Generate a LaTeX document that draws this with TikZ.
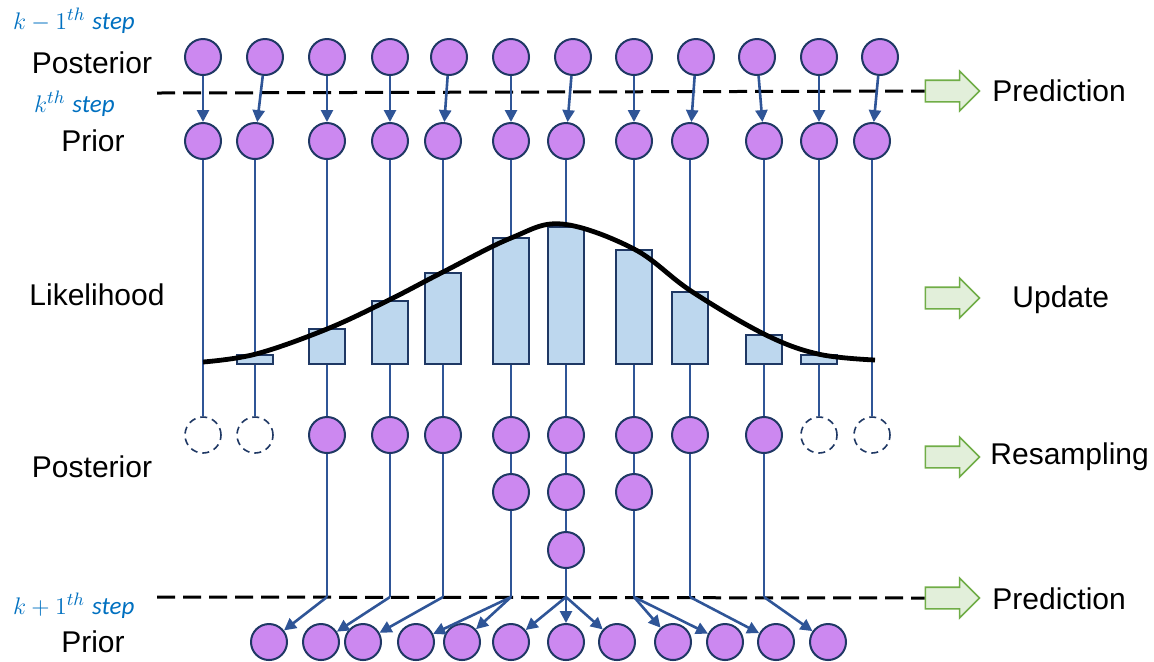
\documentclass[tikz,border=0pt]{standalone}
\usepackage{fontspec}
\setmainfont{Liberation Sans}
\newfontfamily\stepfont{Carlito}
\usetikzlibrary{arrows.meta, shapes.arrows}

\definecolor{particlefill}{RGB}{204,136,240}
\definecolor{navy}{RGB}{31,56,100}
\definecolor{wireblue}{RGB}{47,85,151}
\definecolor{barfill}{RGB}{189,215,238}
\definecolor{stepblue}{RGB}{0,112,192}
\definecolor{stagefill}{RGB}{226,239,218}
\definecolor{stagedraw}{RGB}{112,173,71}

\tikzset{
  particle/.style={circle, draw=navy, fill=particlefill, line width=1pt, minimum size=18pt, inner sep=0pt},
  lost/.style={circle, draw=navy, fill=white, dash pattern=on 3.5pt off 2.5pt, line width=0.8pt, minimum size=18pt, inner sep=0pt},
  wire/.style={draw=wireblue, line width=1.3pt},
  move/.style={wire, -{Triangle[length=6pt,width=6pt]}},
  bar/.style={draw=navy, fill=barfill, line width=1pt},
  cut/.style={black, line width=1.5pt, dash pattern=on 9pt off 4pt},
  stage/.style={single arrow, draw=stagedraw, fill=stagefill, line width=0.8pt, minimum height=27pt, single arrow head extend=4.5pt, inner xsep=0pt, inner ysep=5pt},
  rowlabel/.style={font=\fontsize{15}{18}\selectfont},
  stagelabel/.style={rowlabel, anchor=west, inner sep=0pt},
  steplabel/.style={text=stepblue, font=\fontsize{12.5}{15}\selectfont, anchor=west},
}

\begin{document}
\begin{tikzpicture}[x=0.5pt, y=-0.5pt]
      \useasboundingbox (0,0) rectangle (1154,661);

      % 1. row labels and step labels
      \node[steplabel] (km1) at (6,21) {$k-1^{th}$ {\stepfont\itshape step}};
      \node[steplabel] (k) at (27,104) {$k^{th}$ {\stepfont\itshape step}};
      \node[steplabel] (kp1) at (6,606) {$k+1^{th}$ {\stepfont\itshape step}};
      \node[rowlabel] (lpost1) at (92,63) {Posterior};
      \node[rowlabel] (lprior1) at (93,141) {Prior};
      \node[rowlabel] (llik) at (97,295) {Likelihood};
      \node[rowlabel] (lpost2) at (92,467) {Posterior};
      \node[rowlabel] (lprior2) at (93,642) {Prior};

      % 2. stage arrows on the right
      \node[stage] (pred1) at (947,91) {};
      \node[stage] (upd) at (947,298) {};
      \node[stage] (res) at (947,457) {};
      \node[stage] (pred2) at (947,598) {};
      \node[stagelabel] (tpred1) at (992,91) {Prediction};
      \node[stagelabel] (tupd) at (1012,300) {Update};
      \node[stagelabel] (tres) at (990,457) {Resampling};
      \node[stagelabel] (tpred2) at (992,599) {Prediction};

      % 3. step boundaries
      \draw[cut] (157,93) -- (pred1.west);
      \draw[cut] (157,597) -- (pred2.west);

      % 4. posterior at k-1 and prior at k
      \foreach \x [count=\i] in {203,265,327,390,449,511,573,634,696,757,819,880}
        \node[particle] (t\i) at (\x,57) {};
      \foreach \x [count=\i] in {203,255,327,390,443,511,566,634,690,764,819,872}
        \node[particle] (p\i) at (\x,141) {};
      \foreach \i in {1,...,12}
        \draw[move] (t\i) -- (p\i);

      % 5. posterior after resampling
      \node[lost] (r1) at (203,435) {};
      \node[lost] (r2) at (255,435) {};
      \foreach \x [count=\i from 3] in {327,390,443,511,566,634,690,764}
        \node[particle] (r\i) at (\x,435) {};
      \node[lost] (r11) at (819,435) {};
      \node[lost] (r12) at (872,435) {};
      \node[particle] (r6b) at (511,492) {};
      \node[particle] (r7b) at (566,492) {};
      \node[particle] (r7c) at (566,550) {};
      \node[particle] (r8b) at (634,492) {};
      \foreach \i in {1,...,12}
        \draw[wire] (p\i) -- (r\i);

      % 6. likelihood weights
      \foreach \x/\h in {255/355,327/329,390/301,443/273,511/238,566/227,634/250,690/292,764/335,819/355}
        \draw[bar] (\x-18,364) rectangle (\x+18,\h);
      \draw[black, line width=2.4pt] plot[smooth, tension=0.6] coordinates {(203,362) (256,354) (327,329) (389,300) (443,272) (511,238) (562,224) (634,249) (691,291) (764,334) (818,354) (875,360)};

      % 7. prior at k+1
      \foreach \x [count=\i] in {269,321,363,416,462,511,566,617,673,725,776,828}
        \node[particle] (b\i) at (\x,642) {};
      \foreach \x [count=\i from 3] in {327,390,443,511,566,634,690,764}
        \coordinate (s\i) at (\x,597);
      \draw[wire] (r3) -- (s3);
      \draw[wire] (r4) -- (s4);
      \draw[wire] (r5) -- (s5);
      \draw[wire] (r6) -- (r6b) -- (s6);
      \draw[wire] (r7) -- (r7b) -- (r7c) -- (s7);
      \draw[wire] (r8) -- (r8b) -- (s8);
      \draw[wire] (r9) -- (s9);
      \draw[wire] (r10) -- (s10);
      \foreach \s/\b in {3/1,4/2,5/3,6/4,6/5,7/6,7/7,7/8,8/9,8/10,9/11,10/12}
        \draw[move] (s\s) -- (b\b);
    \end{tikzpicture}
\end{document}
